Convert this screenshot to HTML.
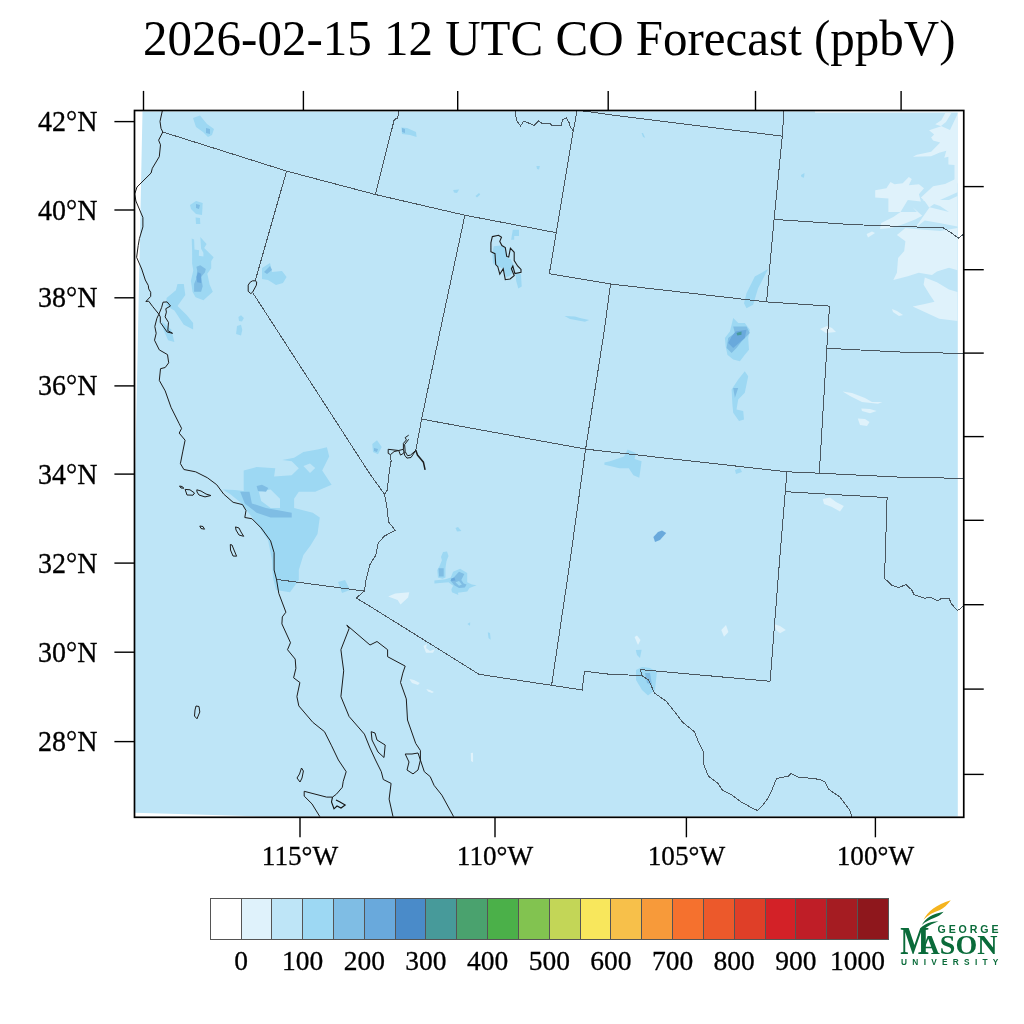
<!DOCTYPE html><html><head><meta charset="utf-8"><style>html,body{margin:0;padding:0;background:#fff;width:1024px;height:1024px;overflow:hidden}svg{display:block;will-change:transform}</style></head><body>
<svg width="1024" height="1024" viewBox="0 0 1024 1024">
<rect width="1024" height="1024" fill="#fff"/>
<text transform="translate(549.3,54.5) scale(1,1.035)" text-anchor="middle" font-family="Liberation Serif" font-size="49" fill="#000">2026-02-15 12 UTC CO Forecast (ppbV)</text>
<polygon points="142.5,111.5 815,111.5 815,112.5 957.8,112.5 957.8,816.5 266,816.5 135,812.7 135,480" fill="#bee5f7"/>
<path d="M945.3,113.0 L951.4,113.0 L946.0,122.0 L941.0,126.0 L950.0,130.0 L958.0,113.0 L958.0,183.2 L954.5,183.2 L954.5,164.9 L948.4,164.4 L948.4,156.8 L944.3,157.8 L946.3,150.7 L939.2,152.7 L931.1,156.2 L912.8,156.8 L916.9,154.7 L931.1,151.7 L940.2,142.5 L933.1,140.5 L931.1,137.5 L934.1,134.4 L929.1,130.3 L941.3,126.3 L935.2,124.3 L941.3,120.2 Z" fill="#dff2fb"/>
<path d="M875.2,190.3 L886.4,188.2 L890.5,182.1 L894.5,184.2 L902.7,183.2 L908.8,177.1 L911.8,179.1 L908.8,185.2 L918.9,184.2 L924.0,188.2 L918.9,194.3 L920.9,201.4 L907.8,200.0 L900.5,212.1 L893.3,217.0 L881.2,223.0 L880.0,229.1 L890.9,227.9 L903.0,224.2 L915.1,219.4 L922.3,215.7 L912.7,207.3 L916.9,212.0 L888.4,212.0 L888.4,198.4 L875.2,197.4 Z" fill="#dff2fb"/>
<path d="M920.9,197.4 L933.1,186.2 L945.0,184.0 L957.5,178.0 L957.5,192.3 L940.0,200.0 L929.1,207.5 L925.0,201.4 Z" fill="#dff2fb"/>
<path d="M922.3,200.0 L949.0,200.0 L957.5,196.0 L957.5,226.6 L939.3,223.0 L924.8,220.6 L915.1,227.9 L929.6,207.3 L949.0,212.1 L940.0,206.0 Z" fill="#dff2fb"/>
<path d="M896.9,235.1 L905.4,227.9 L915.1,229.1 L940.0,231.0 L957.5,227.9 L957.5,270.2 L949.0,267.8 L936.9,271.4 L932.0,275.1 L918.7,272.7 L907.8,276.3 L893.3,279.9 L896.9,272.7 L898.1,258.1 L904.2,250.9 L905.4,241.2 Z" fill="#dff2fb"/>
<path d="M924.8,277.5 L936.9,282.3 L949.0,289.6 L957.5,292.0 L957.5,321.1 L939.3,318.7 L912.7,306.6 L924.8,304.1 L934.5,301.7 L929.6,294.5 L923.6,284.8 Z" fill="#dff2fb"/>
<path d="M866.6,234.0 L872.0,231.5 L875.1,233.0 L868.0,237.5 Z" fill="#dff2fb"/>
<path d="M892.0,309.0 L897.0,311.0 L903.0,315.0 L899.0,316.0 L893.0,312.0 Z" fill="#dff2fb"/>
<path d="M820.0,329.0 L827.0,326.0 L832.0,328.0 L836.0,332.0 L826.0,333.0 Z" fill="#dff2fb"/>
<path d="M193.0,118.0 L200.0,115.5 L207.0,124.0 L214.0,129.0 L212.0,135.0 L208.0,137.0 L203.0,132.0 L196.0,127.0 Z" fill="#9dd8f3"/>
<path d="M206.0,128.0 L210.0,129.0 L210.0,134.0 L206.0,133.0 Z" fill="#7fbde4"/>
<path d="M401.3,127.5 L407.0,128.0 L416.0,132.0 L416.6,137.0 L410.0,135.0 L402.0,134.0 Z" fill="#9dd8f3"/>
<path d="M402.0,128.0 L405.0,129.0 L405.0,133.0 L402.0,132.0 Z" fill="#7fbde4"/>
<path d="M190.0,205.0 L196.0,201.0 L202.7,203.0 L202.0,215.0 L196.0,214.0 L191.0,209.0 Z" fill="#9dd8f3"/>
<path d="M196.0,204.0 L200.0,205.0 L199.0,209.0 L196.0,208.0 Z" fill="#7fbde4"/>
<path d="M195.6,217.5 L200.0,218.0 L200.3,224.0 L196.0,224.0 Z" fill="#9dd8f3"/>
<path d="M191.7,238.6 L194.1,239.4 L194.5,249.5 L199.1,250.3 L198.8,255.8 L203.4,256.6 L203.4,252.7 L201.1,248.8 L200.3,237.0 L206.6,244.1 L204.2,248.0 L213.6,257.3 L211.2,261.2 L211.2,268.3 L207.3,273.8 L209.7,284.7 L212.8,291.7 L203.4,300.3 L195.6,297.2 L192.5,291.7 L190.9,280.8 L193.3,270.6 L192.1,263.6 L192.1,250.3 Z" fill="#9dd8f3"/>
<path d="M196.4,266.7 L200.3,265.2 L205.8,269.1 L205.0,272.2 L201.1,276.9 L202.7,286.2 L201.1,291.7 L194.1,291.7 L194.1,283.9 L196.4,278.4 L197.2,270.6 Z" fill="#7fbde4"/>
<path d="M198.0,272.2 L201.1,273.8 L201.1,283.1 L197.2,282.3 L196.4,276.9 Z" fill="#69a9dc"/>
<path d="M177.5,284.1 L183.8,284.1 L185.3,295.0 L177.5,305.9 L186.9,315.3 L193.1,323.1 L193.1,329.4 L183.8,324.7 L174.4,310.6 L166.6,305.9 L166.6,298.1 L175.9,290.3 Z" fill="#9dd8f3"/>
<path d="M161.9,321.6 L171.2,329.4 L174.4,341.9 L168.1,340.3 L163.4,329.4 Z" fill="#9dd8f3"/>
<path d="M262.0,268.0 L270.0,263.0 L272.0,272.0 L282.0,271.0 L286.6,277.0 L283.0,283.0 L276.0,285.0 L268.0,280.0 L262.0,279.0 Z" fill="#9dd8f3"/>
<path d="M264.0,272.0 L270.0,266.0 L272.0,270.0 L267.0,274.0 Z" fill="#7fbde4"/>
<path d="M238.4,317.0 L241.0,315.3 L243.9,318.0 L242.0,321.6 L239.0,321.0 Z" fill="#9dd8f3"/>
<path d="M237.0,326.0 L241.0,324.7 L242.3,330.0 L241.0,335.6 L236.1,334.0 Z" fill="#9dd8f3"/>
<path d="M222.6,489.4 L235.0,490.0 L243.7,491.0 L243.7,470.6 L256.6,467.1 L275.3,468.3 L274.1,476.5 L291.7,475.3 L298.8,468.3 L291.7,461.2 L282.3,460.1 L294.1,457.7 L303.4,451.9 L317.5,449.5 L326.9,447.2 L329.2,456.6 L322.2,470.6 L331.6,484.7 L315.2,491.7 L298.8,491.7 L294.1,498.7 L294.1,508.1 L312.8,512.8 L319.8,517.5 L317.5,533.9 L310.5,545.6 L303.4,555.0 L298.8,570.0 L298.8,580.0 L290.0,592.3 L276.0,590.0 L273.0,578.0 L272.0,560.0 L268.0,540.0 L258.0,525.0 L248.0,512.0 L240.0,502.0 L230.0,494.0 Z" fill="#9dd8f3"/>
<path d="M258.9,491.7 L270.6,489.4 L280.0,498.7 L280.0,508.1 L270.6,508.1 L261.2,501.1 Z" fill="#bee5f7"/>
<path d="M303.4,466.0 L310.0,463.6 L315.2,468.0 L310.0,473.0 Z" fill="#bee5f7"/>
<path d="M240.2,491.7 L249.5,491.7 L251.9,503.4 L265.9,508.1 L291.7,512.8 L291.7,517.5 L270.6,517.5 L256.6,512.8 L244.8,503.4 Z" fill="#7fbde4"/>
<path d="M256.6,486.0 L262.0,484.7 L268.3,488.0 L266.0,491.7 L258.0,491.0 Z" fill="#7fbde4"/>
<path d="M338.0,582.0 L345.0,580.0 L350.0,590.0 L342.0,593.0 Z" fill="#9dd8f3"/>
<path d="M372.3,444.0 L377.0,440.2 L381.7,447.0 L378.0,454.2 L373.0,452.0 Z" fill="#9dd8f3"/>
<path d="M374.0,448.0 L378.0,449.0 L377.0,452.0 L374.0,451.0 Z" fill="#7fbde4"/>
<path d="M443.0,552.0 L447.0,551.5 L448.5,556.0 L446.7,560.5 L442.0,560.5 L441.0,557.0 Z" fill="#9dd8f3"/>
<path d="M442.0,560.0 L446.7,560.0 L445.5,567.6 L445.5,577.6 L442.6,578.7 L437.9,577.6 L437.3,570.0 L439.6,565.9 Z" fill="#9dd8f3"/>
<path d="M438.5,568.2 L443.7,568.2 L443.7,576.4 L439.1,576.4 Z" fill="#7fbde4"/>
<path d="M453.1,571.7 L460.1,568.8 L467.2,572.9 L467.2,582.3 L471.9,584.6 L476.6,585.2 L469.5,588.1 L467.2,591.6 L457.8,592.8 L458.4,595.1 L451.9,592.2 L451.4,589.3 L453.1,585.8 L448.4,582.3 L434.4,583.4 L434.4,580.5 L445.5,579.3 L450.8,577.6 Z" fill="#9dd8f3"/>
<path d="M452.5,578.7 L459.0,571.7 L464.3,574.1 L461.3,579.9 L463.7,583.4 L466.6,584.6 L464.8,587.5 L459.0,588.1 L454.3,585.2 L450.2,580.5 Z" fill="#7fbde4"/>
<path d="M455.5,582.3 L459.0,581.1 L461.9,584.6 L459.0,585.8 Z" fill="#9dd8f3"/>
<path d="M450.8,578.7 L454.3,577.6 L455.5,580.5 L451.4,581.1 Z" fill="#69a9dc"/>
<path d="M388.2,596.4 L395.2,593.5 L409.3,592.3 L408.1,597.6 L400.5,604.6 L397.6,599.9 Z" fill="#dff2fb"/>
<path d="M515.5,272.8 L521.0,274.2 L521.7,286.5 L518.3,288.6 L516.2,281.0 Z" fill="#9dd8f3"/>
<path d="M512.8,229.8 L519.0,229.8 L519.0,235.9 L514.2,235.9 L514.2,239.7 L511.1,239.7 Z" fill="#9dd8f3"/>
<path d="M768.1,269.1 L758.1,288.2 L753.1,304.8 L746.5,308.2 L744.0,303.2 L746.5,293.2 L754.8,276.6 Z" fill="#9dd8f3"/>
<path d="M733.2,318.1 L738.2,323.1 L744.8,323.1 L749.8,329.7 L748.2,338.0 L749.0,349.7 L744.8,354.7 L739.9,361.3 L733.2,359.6 L727.4,354.7 L725.7,346.4 L724.9,338.0 L729.9,331.4 L731.6,324.8 Z" fill="#9dd8f3"/>
<path d="M733.2,326.4 L746.5,326.4 L749.8,333.1 L741.5,341.4 L736.5,348.0 L731.6,353.0 L726.6,348.0 L728.2,338.0 L734.9,333.1 Z" fill="#7fbde4"/>
<path d="M735.7,331.4 L746.5,329.7 L744.8,338.0 L733.2,348.0 L728.2,343.0 L731.6,336.4 Z" fill="#69a9dc"/>
<path d="M736.5,333.1 L741.5,331.4 L741.5,334.7 L737.4,335.6 Z" fill="#479a9a"/>
<path d="M744.8,371.3 L748.2,376.2 L744.8,392.8 L738.2,399.5 L736.5,409.5 L743.2,411.1 L744.0,419.4 L739.0,421.1 L733.2,412.8 L732.4,404.5 L731.6,389.5 L738.2,379.6 Z" fill="#9dd8f3"/>
<path d="M733.2,387.9 L738.2,387.9 L734.9,397.8 Z" fill="#7fbde4"/>
<path d="M604.4,462.4 L610.0,461.2 L624.1,456.6 L627.6,449.5 L635.8,453.0 L634.6,458.9 L641.6,461.2 L639.3,477.7 L633.4,475.3 L628.8,468.3 L619.4,468.3 L610.0,465.9 L604.4,464.8 Z" fill="#9dd8f3"/>
<path d="M653.4,537.0 L658.0,532.0 L662.0,530.4 L666.2,533.0 L660.0,540.0 L655.0,542.1 Z" fill="#69a9dc"/>
<path d="M636.0,670.0 L642.0,667.0 L650.0,668.0 L656.9,672.0 L655.0,690.0 L648.0,695.4 L642.0,690.0 L636.0,680.0 Z" fill="#9dd8f3"/>
<path d="M645.0,673.0 L650.0,673.0 L652.0,685.0 L647.0,683.0 Z" fill="#7fbde4"/>
<path d="M735.0,470.0 L740.0,468.0 L742.0,472.0 L736.0,474.0 Z" fill="#9dd8f3"/>
<path d="M423.4,646.0 L427.0,643.9 L426.0,648.0 L430.0,651.0 L435.1,649.0 L433.0,652.7 L426.0,652.7 Z" fill="#dff2fb"/>
<path d="M409.3,679.0 L414.0,680.0 L419.8,683.0 L418.0,684.9 L412.0,683.0 Z" fill="#dff2fb"/>
<path d="M426.3,689.0 L430.0,690.0 L433.9,692.0 L432.0,693.0 L428.0,691.5 Z" fill="#dff2fb"/>
<path d="M467.3,624.0 L470.2,622.2 L470.0,625.7 Z" fill="#9dd8f3"/>
<path d="M487.8,632.2 L490.0,633.0 L490.7,639.8 L488.5,638.0 Z" fill="#9dd8f3"/>
<path d="M453.2,190.0 L459.1,189.4 L457.0,192.9 L454.0,192.5 Z" fill="#9dd8f3"/>
<path d="M475.5,196.0 L479.0,192.9 L480.2,194.5 L477.0,197.6 Z" fill="#9dd8f3"/>
<path d="M536.4,166.0 L539.9,165.9 L539.0,169.5 L537.0,169.0 Z" fill="#9dd8f3"/>
<path d="M564.5,316.0 L575.0,316.5 L580.0,318.0 L589.1,320.0 L585.0,321.8 L570.0,319.0 Z" fill="#9dd8f3"/>
<path d="M641.6,133.1 L643.0,133.0 L645.2,137.8 L643.0,137.0 Z" fill="#9dd8f3"/>
<path d="M801.0,175.0 L804.5,173.0 L804.0,177.7 L801.5,177.0 Z" fill="#9dd8f3"/>
<path d="M455.5,528.0 L458.0,526.9 L461.4,531.0 L457.0,531.6 Z" fill="#9dd8f3"/>
<path d="M842.6,391.4 L852.0,393.0 L865.0,398.0 L872.0,402.0 L882.4,402.0 L878.0,403.8 L862.0,402.0 L850.0,396.0 Z" fill="#dff2fb"/>
<path d="M861.3,408.5 L870.0,409.0 L876.6,411.0 L870.0,413.2 L862.0,411.0 Z" fill="#dff2fb"/>
<path d="M857.8,418.6 L865.0,419.0 L869.5,422.0 L867.0,426.1 L860.0,425.0 Z" fill="#dff2fb"/>
<path d="M822.7,499.0 L830.0,497.6 L836.0,502.0 L843.8,506.0 L840.0,511.6 L832.0,507.0 L824.0,504.0 Z" fill="#dff2fb"/>
<path d="M634.6,637.0 L637.0,635.6 L640.5,640.0 L638.0,645.0 Z" fill="#dff2fb"/>
<path d="M635.8,650.0 L641.6,649.7 L640.0,657.9 L637.0,655.0 Z" fill="#9dd8f3"/>
<path d="M721.3,630.0 L726.0,625.0 L728.4,632.0 L724.0,636.8 Z" fill="#dff2fb"/>
<path d="M774.0,624.0 L780.0,626.0 L785.8,630.0 L780.0,633.3 L776.0,630.0 Z" fill="#dff2fb"/>
<path d="M470.8,753.0 L473.0,752.8 L473.1,762.2 L471.0,761.0 Z" fill="#dff2fb"/>
<path d="M493.7,246.2 L500.5,245.5 L505.3,247.6 L507.3,257.8 L510.8,259.2 L514.2,266.0 L512.8,272.8 L509.4,276.3 L506.0,276.9 L503.2,268.7 L497.1,266.0 L493.0,263.3 L492.3,253.7 Z" fill="#9dd8f3"/>
<path d="M492.3,236.6 L498.5,235.3 L501.5,237.3 L499.8,241.4 L501.9,245.5 L505.3,247.6 L506.7,256.4 L508.7,257.1 L510.4,248.2 L514.2,252.3 L514.2,260.5 L517.6,266.0 L521.0,269.4 L521.0,272.2 L514.9,273.5 L512.8,266.0 L511.4,268.7 L514.2,275.6 L510.1,279.0 L505.3,279.7 L503.2,268.7 L499.8,274.2 L497.8,266.7 L495.7,264.6 L495.0,253.7 L490.9,251.7 L490.9,242.8 Z" fill="none" stroke="#1c1c1c" stroke-width="1.1"/>
<path d="M162.8,132.0 L286.6,171.1 L375.3,194.5 L464.9,215.2 L556.3,232.7" fill="none" stroke="#4a5760" stroke-width="1" shape-rendering="crispEdges"/>
<path d="M286.6,171.1 L255.2,280.8" fill="none" stroke="#4a5760" stroke-width="1" shape-rendering="crispEdges"/>
<path d="M252.6,292.5 L370.0,474.1 L385.2,495.2" fill="none" stroke="#4a5760" stroke-width="1" shape-rendering="crispEdges"/>
<path d="M375.3,194.5 L394.3,119.4 L397.1,118.5 L398.5,114.3 L398.5,110.6" fill="none" stroke="#4a5760" stroke-width="1" shape-rendering="crispEdges"/>
<path d="M464.9,215.2 L440.3,330.0 L421.6,419.1 L415.7,450.7" fill="none" stroke="#4a5760" stroke-width="1" shape-rendering="crispEdges"/>
<path d="M577.1,110.9 L573.2,130.9 L556.3,232.7 L549.3,273.7 L610.5,284.0 L766.6,301.9 L829.5,306.1 L826.8,348.3 L905.9,352.3 L964.0,353.4" fill="none" stroke="#4a5760" stroke-width="1" shape-rendering="crispEdges"/>
<path d="M516.1,110.4 L515.6,114.8 L516.6,120.6 L520.5,126.0 L523.4,121.6 L526.4,122.1 L534.2,125.5 L538.6,121.1 L543.0,124.0 L549.8,123.1 L551.8,125.5 L561.0,126.0 L562.5,120.1 L566.4,117.7 L569.3,123.1 L570.3,127.0 L573.2,130.9" fill="none" stroke="#4a5760" stroke-width="1" shape-rendering="crispEdges"/>
<path d="M582.0,110.9 L593.8,112.3 L610.0,114.8 L782.3,136.2" fill="none" stroke="#4a5760" stroke-width="1" shape-rendering="crispEdges"/>
<path d="M783.9,110.9 L782.3,136.2 L774.1,219.4 L766.6,301.9" fill="none" stroke="#4a5760" stroke-width="1" shape-rendering="crispEdges"/>
<path d="M774.1,219.4 L850.0,224.5 L943.4,228.0 L950.0,232.0 L958.6,238.1 L964.0,233.9" fill="none" stroke="#4a5760" stroke-width="1" shape-rendering="crispEdges"/>
<path d="M610.5,284.0 L604.4,330.0 L585.6,449.1 L568.8,570.0 L551.6,685.3" fill="none" stroke="#4a5760" stroke-width="1" shape-rendering="crispEdges"/>
<path d="M421.6,419.1 L585.6,449.1 L610.0,451.9 L787.0,471.8 L819.3,473.2 L901.2,477.2 L964.0,478.4" fill="none" stroke="#4a5760" stroke-width="1" shape-rendering="crispEdges"/>
<path d="M826.8,348.3 L819.3,473.2" fill="none" stroke="#4a5760" stroke-width="1" shape-rendering="crispEdges"/>
<path d="M787.0,471.8 L785.3,491.7 L778.8,570.0 L770.1,681.3" fill="none" stroke="#4a5760" stroke-width="1" shape-rendering="crispEdges"/>
<path d="M785.3,491.7 L887.1,497.6 L884.8,570.0 L884.3,578.2 L891.8,585.2 L898.8,587.6 L905.9,584.5 L911.7,589.9 L914.1,594.6 L924.6,598.1 L931.7,597.7 L937.5,600.9 L941.0,598.6 L949.2,598.6 L951.6,604.0 L955.0,608.0 L957.4,610.3 L960.0,609.0 L964.0,605.2" fill="none" stroke="#4a5760" stroke-width="1" shape-rendering="crispEdges"/>
<path d="M640.5,669.6 L770.1,681.3" fill="none" stroke="#4a5760" stroke-width="1" shape-rendering="crispEdges"/>
<path d="M276.5,579.4 L364.4,591.1 L356.2,598.1 L370.0,606.3 L479.0,674.3 L551.6,685.3 L582.1,690.0 L584.5,671.3 L610.0,674.3 L641.6,675.5" fill="none" stroke="#4a5760" stroke-width="1" shape-rendering="crispEdges"/>
<path d="M390.5,454.6 L391.1,461.0 L390.0,466.9 L388.2,480.0 L387.6,489.4 L384.5,495.2 L386.4,503.4 L388.7,522.2 L395.3,530.4 L384.1,536.2 L378.2,543.3 L375.9,555.0 L370.0,564.4 L366.0,580.0 L364.4,591.1" fill="none" stroke="#4a5760" stroke-width="1" shape-rendering="crispEdges"/>
<path d="M640.5,669.6 L641.6,675.5 L648.7,680.2 L654.5,693.0 L666.2,701.3 L675.6,713.0 L682.7,722.3 L694.4,731.7 L699.1,743.4 L703.7,752.8 L703.7,764.5 L708.4,776.2 L717.8,783.3 L722.5,790.3 L731.9,795.0 L741.3,802.0 L752.0,808.0 L757.5,810.5 L762.0,806.0 L767.0,799.7 L772.0,790.0 L776.4,778.6 L788.1,776.2 L790.9,773.4 L798.0,777.0 L802.2,777.4 L819.2,779.3 L825.0,782.1 L828.5,789.1 L840.2,797.3 L849.6,810.0 L852.0,817.0" fill="none" stroke="#4a5760" stroke-width="1" shape-rendering="crispEdges"/>
<path d="M162.3,110.9 L160.0,121.4 L161.0,128.4 L162.8,132.0 L158.6,140.2 L160.5,144.8 L159.3,156.6 L152.3,168.3 L151.1,173.0 L137.0,187.0 L134.7,194.0 L135.9,201.0 L142.9,217.5 L142.9,226.9 L139.4,238.6 L138.2,245.6 L136.6,257.3 L141.7,269.0 L145.3,280.0 L148.3,285.5 L148.7,288.9 L150.7,292.3 L150.7,296.4 L145.9,301.5 L148.7,301.2 L152.8,306.7 L158.9,314.2 L156.9,318.3 L154.8,326.5 L156.2,333.3 L154.5,340.2 L159.3,349.9 L167.5,354.6 L168.7,362.8 L165.2,367.5 L160.5,368.7 L159.3,380.4 L165.2,390.9 L171.0,407.3 L179.2,423.7 L181.6,428.4 L179.2,433.1 L185.1,440.2 L182.7,451.9 L180.4,463.6 L183.9,469.5 L195.6,471.8 L207.3,477.7 L216.7,484.7 L223.7,494.1 L233.1,502.3 L242.5,504.6 L246.0,510.5 L244.8,517.5 L251.9,518.7 L261.2,528.0 L270.6,540.9 L274.1,552.7 L274.1,570.0 L276.5,579.4 L278.8,593.4 L285.9,612.2 L282.3,616.9 L281.9,623.9 L290.5,642.7 L287.5,649.7 L295.2,659.1 L295.9,668.4 L293.6,677.8 L299.9,682.5 L296.9,696.6 L298.8,705.9 L312.8,722.3 L324.5,731.7 L331.6,745.8 L338.4,760.0 L346.2,771.7 L343.2,781.5 L342.3,787.3 L336.4,794.2 L332.5,797.1 L326.6,797.1 L304.2,791.3 L304.2,796.1 L312.0,803.9 L319.8,816.6" fill="none" stroke="#1c1c1c" stroke-width="1.0" stroke-linejoin="round"/>
<path d="M158.9,314.2 L161.7,307.3 L163.0,302.2 L167.1,301.9 L170.5,306.0 L165.8,308.7 L166.4,312.1 L165.1,316.9 L168.5,322.4 L167.8,330.6 L172.6,333.3 L167.1,332.0 L160.3,322.4 L160.3,316.9 L158.9,314.2" fill="none" stroke="#1c1c1c" stroke-width="1.0" stroke-linejoin="round"/>
<path d="M255.2,280.8 L256.7,281.9 L256.4,285.1 L252.6,292.2 L250.8,293.6 L248.2,291.3 L248.2,285.1 L250.2,282.2 L252.6,280.8 L255.2,280.8" fill="none" stroke="#1c1c1c" stroke-width="1.0" stroke-linejoin="round"/>
<path d="M346.8,625.1 L349.1,628.6 L340.9,649.7 L342.1,659.1 L343.7,670.8 L340.9,696.6 L349.1,716.5 L364.4,734.1 L370.0,748.0 L375.5,760.0 L381.3,771.7 L383.3,779.5 L391.1,783.4 L389.1,799.1 L393.0,816.6" fill="none" stroke="#1c1c1c" stroke-width="1.0" stroke-linejoin="round"/>
<path d="M346.8,625.1 L370.0,645.0 L377.0,641.5 L387.6,649.7 L387.6,656.7 L405.2,666.1 L402.8,673.1 L400.5,682.5 L406.3,698.9 L407.5,720.0 L415.7,743.4 L420.4,750.5 L420.4,760.0 L424.3,771.7 L430.2,776.6 L434.1,785.4 L441.9,795.2 L453.6,816.6" fill="none" stroke="#1c1c1c" stroke-width="1.0" stroke-linejoin="round"/>
<path d="M415.7,450.5 L411.0,457.5 L406.9,458.1 L404.6,455.1 L403.4,449.3 L403.4,443.4 L406.4,439.9 L405.2,437.6 L408.7,435.2" fill="none" stroke="#1c1c1c" stroke-width="1.0" stroke-linejoin="round"/>
<path d="M408.7,439.3 L404.6,444.6 L405.2,451.6 L407.5,455.7 L410.5,455.1 L415.7,450.5" fill="none" stroke="#1c1c1c" stroke-width="1.0" stroke-linejoin="round"/>
<path d="M403.4,449.3 L398.7,450.5 L400.5,455.1 L403.4,453.4 L404.6,451.6" fill="none" stroke="#1c1c1c" stroke-width="1.0" stroke-linejoin="round"/>
<path d="M398.7,450.5 L388.2,449.3 L388.2,453.4 L390.5,454.6 L394.1,451.6 L398.7,450.5" fill="none" stroke="#1c1c1c" stroke-width="1.0" stroke-linejoin="round"/>
<path d="M415.7,449.9 L417.5,455.1 L421.0,459.3 L423.4,462.2 L425.1,469.8" fill="none" stroke="#1c1c1c" stroke-width="1.5"/>
<path d="M179.5,486.0 L182.0,486.5 L183.9,488.2 L181.0,488.0 Z" fill="none" stroke="#1c1c1c" stroke-width="1.0" stroke-linejoin="round"/>
<path d="M185.1,489.4 L190.0,489.8 L194.5,493.0 L193.0,495.2 L187.0,495.0 L186.0,492.0 Z" fill="none" stroke="#1c1c1c" stroke-width="1.0" stroke-linejoin="round"/>
<path d="M196.8,489.8 L201.0,491.0 L206.0,494.0 L210.9,495.5 L205.0,496.9 L199.0,495.0 L197.0,492.0 Z" fill="none" stroke="#1c1c1c" stroke-width="1.0" stroke-linejoin="round"/>
<path d="M199.8,526.0 L203.0,526.5 L204.5,529.2 L201.0,528.5 Z" fill="none" stroke="#1c1c1c" stroke-width="1.0" stroke-linejoin="round"/>
<path d="M235.5,526.9 L239.0,528.0 L241.0,532.0 L243.7,536.3 L239.0,535.0 L236.0,530.0 Z" fill="none" stroke="#1c1c1c" stroke-width="1.0" stroke-linejoin="round"/>
<path d="M230.3,544.5 L232.0,545.0 L234.0,550.0 L236.6,556.2 L233.0,556.0 L230.5,550.0 Z" fill="none" stroke="#1c1c1c" stroke-width="1.0" stroke-linejoin="round"/>
<path d="M196.0,706.0 L199.0,706.5 L199.8,712.0 L197.0,718.8 L194.5,716.0 L195.0,710.0 Z" fill="none" stroke="#1c1c1c" stroke-width="1.0" stroke-linejoin="round"/>
<path d="M301.5,768.0 L303.4,771.0 L302.0,778.0 L300.0,782.0 L297.0,778.0 L299.5,774.0 Z" fill="none" stroke="#1c1c1c" stroke-width="1.0" stroke-linejoin="round"/>
<path d="M371.2,731.7 L375.0,733.0 L377.0,740.0 L385.2,745.0 L384.0,757.5 L378.0,752.0 L372.0,740.0 Z" fill="none" stroke="#1c1c1c" stroke-width="1.0" stroke-linejoin="round"/>
<path d="M405.2,754.0 L412.0,754.0 L418.0,753.0 L420.4,760.0 L418.0,770.0 L413.0,773.9 L407.0,770.0 L409.0,762.0 Z" fill="none" stroke="#1c1c1c" stroke-width="1.0" stroke-linejoin="round"/>
<path d="M332.5,797.1 L331.5,802.0 L334.0,808.8 L337.0,806.0 L341.0,808.0 L345.2,805.0 L340.0,802.0 L336.0,800.0" fill="none" stroke="#111" stroke-width="1.1"/>
<rect x="134.5" y="110.5" width="829.25" height="706.8" fill="none" stroke="#000" stroke-width="1.7"/>
<line x1="114.4" y1="121.6" x2="134.5" y2="121.6" stroke="#000" stroke-width="1.4"/>
<text transform="translate(97.5,131.1) scale(1,1.06)" text-anchor="end" font-family="Liberation Serif" font-size="28" fill="#000" stroke="#000" stroke-width="0.3">42°N</text>
<line x1="114.4" y1="210" x2="134.5" y2="210" stroke="#000" stroke-width="1.4"/>
<text transform="translate(97.5,219.5) scale(1,1.06)" text-anchor="end" font-family="Liberation Serif" font-size="28" fill="#000" stroke="#000" stroke-width="0.3">40°N</text>
<line x1="114.4" y1="297.8" x2="134.5" y2="297.8" stroke="#000" stroke-width="1.4"/>
<text transform="translate(97.5,307.3) scale(1,1.06)" text-anchor="end" font-family="Liberation Serif" font-size="28" fill="#000" stroke="#000" stroke-width="0.3">38°N</text>
<line x1="114.4" y1="385.9" x2="134.5" y2="385.9" stroke="#000" stroke-width="1.4"/>
<text transform="translate(97.5,395.4) scale(1,1.06)" text-anchor="end" font-family="Liberation Serif" font-size="28" fill="#000" stroke="#000" stroke-width="0.3">36°N</text>
<line x1="114.4" y1="474.1" x2="134.5" y2="474.1" stroke="#000" stroke-width="1.4"/>
<text transform="translate(97.5,483.6) scale(1,1.06)" text-anchor="end" font-family="Liberation Serif" font-size="28" fill="#000" stroke="#000" stroke-width="0.3">34°N</text>
<line x1="114.4" y1="563.1" x2="134.5" y2="563.1" stroke="#000" stroke-width="1.4"/>
<text transform="translate(97.5,572.6) scale(1,1.06)" text-anchor="end" font-family="Liberation Serif" font-size="28" fill="#000" stroke="#000" stroke-width="0.3">32°N</text>
<line x1="114.4" y1="652.2" x2="134.5" y2="652.2" stroke="#000" stroke-width="1.4"/>
<text transform="translate(97.5,661.7) scale(1,1.06)" text-anchor="end" font-family="Liberation Serif" font-size="28" fill="#000" stroke="#000" stroke-width="0.3">30°N</text>
<line x1="114.4" y1="741.6" x2="134.5" y2="741.6" stroke="#000" stroke-width="1.4"/>
<text transform="translate(97.5,751.1) scale(1,1.06)" text-anchor="end" font-family="Liberation Serif" font-size="28" fill="#000" stroke="#000" stroke-width="0.3">28°N</text>
<line x1="143.5" y1="90.9" x2="143.5" y2="110.5" stroke="#000" stroke-width="1.4"/>
<line x1="303.4" y1="90.9" x2="303.4" y2="110.5" stroke="#000" stroke-width="1.4"/>
<line x1="457.7" y1="90.9" x2="457.7" y2="110.5" stroke="#000" stroke-width="1.4"/>
<line x1="608.2" y1="90.9" x2="608.2" y2="110.5" stroke="#000" stroke-width="1.4"/>
<line x1="755.5" y1="90.9" x2="755.5" y2="110.5" stroke="#000" stroke-width="1.4"/>
<line x1="901.1" y1="90.9" x2="901.1" y2="110.5" stroke="#000" stroke-width="1.4"/>
<line x1="300" y1="817.3" x2="300" y2="837.3" stroke="#000" stroke-width="1.4"/>
<text transform="translate(300,865.3) scale(1,1.04)" text-anchor="middle" font-family="Liberation Serif" font-size="27.2" fill="#000" stroke="#000" stroke-width="0.3">115°W</text>
<line x1="495" y1="817.3" x2="495" y2="837.3" stroke="#000" stroke-width="1.4"/>
<text transform="translate(495,865.3) scale(1,1.04)" text-anchor="middle" font-family="Liberation Serif" font-size="27.2" fill="#000" stroke="#000" stroke-width="0.3">110°W</text>
<line x1="686.4" y1="817.3" x2="686.4" y2="837.3" stroke="#000" stroke-width="1.4"/>
<text transform="translate(686.4,865.3) scale(1,1.04)" text-anchor="middle" font-family="Liberation Serif" font-size="27.2" fill="#000" stroke="#000" stroke-width="0.3">105°W</text>
<line x1="875.4" y1="817.3" x2="875.4" y2="837.3" stroke="#000" stroke-width="1.4"/>
<text transform="translate(875.4,865.3) scale(1,1.04)" text-anchor="middle" font-family="Liberation Serif" font-size="27.2" fill="#000" stroke="#000" stroke-width="0.3">100°W</text>
<line x1="963.75" y1="186.6" x2="983.75" y2="186.6" stroke="#000" stroke-width="1.4"/>
<line x1="963.75" y1="269.7" x2="983.75" y2="269.7" stroke="#000" stroke-width="1.4"/>
<line x1="963.75" y1="353.1" x2="983.75" y2="353.1" stroke="#000" stroke-width="1.4"/>
<line x1="963.75" y1="436.6" x2="983.75" y2="436.6" stroke="#000" stroke-width="1.4"/>
<line x1="963.75" y1="520.3" x2="983.75" y2="520.3" stroke="#000" stroke-width="1.4"/>
<line x1="963.75" y1="604.7" x2="983.75" y2="604.7" stroke="#000" stroke-width="1.4"/>
<line x1="963.75" y1="689.1" x2="983.75" y2="689.1" stroke="#000" stroke-width="1.4"/>
<line x1="963.75" y1="774.4" x2="983.75" y2="774.4" stroke="#000" stroke-width="1.4"/>
<rect x="210.25" y="898.5" width="30.82" height="40.7" fill="#ffffff"/>
<rect x="241.07" y="898.5" width="30.82" height="40.7" fill="#dff2fb"/>
<rect x="271.89" y="898.5" width="30.82" height="40.7" fill="#bee5f7"/>
<rect x="302.71" y="898.5" width="30.82" height="40.7" fill="#9dd8f3"/>
<rect x="333.53" y="898.5" width="30.82" height="40.7" fill="#7fbde4"/>
<rect x="364.35" y="898.5" width="30.82" height="40.7" fill="#69a9dc"/>
<rect x="395.17" y="898.5" width="30.82" height="40.7" fill="#4a8bc9"/>
<rect x="425.99" y="898.5" width="30.82" height="40.7" fill="#479a9a"/>
<rect x="456.81" y="898.5" width="30.82" height="40.7" fill="#4aa26e"/>
<rect x="487.63" y="898.5" width="30.82" height="40.7" fill="#4bb049"/>
<rect x="518.45" y="898.5" width="30.82" height="40.7" fill="#82c350"/>
<rect x="549.27" y="898.5" width="30.82" height="40.7" fill="#c3d657"/>
<rect x="580.10" y="898.5" width="30.82" height="40.7" fill="#f8e75c"/>
<rect x="610.92" y="898.5" width="30.82" height="40.7" fill="#f7c04a"/>
<rect x="641.74" y="898.5" width="30.82" height="40.7" fill="#f79a3a"/>
<rect x="672.56" y="898.5" width="30.82" height="40.7" fill="#f5712e"/>
<rect x="703.38" y="898.5" width="30.82" height="40.7" fill="#ec592b"/>
<rect x="734.20" y="898.5" width="30.82" height="40.7" fill="#df3f28"/>
<rect x="765.02" y="898.5" width="30.82" height="40.7" fill="#d32127"/>
<rect x="795.84" y="898.5" width="30.82" height="40.7" fill="#bf1e27"/>
<rect x="826.66" y="898.5" width="30.82" height="40.7" fill="#a51c22"/>
<rect x="857.48" y="898.5" width="30.82" height="40.7" fill="#8e171c"/>
<g fill="none" stroke="#555" stroke-width="1" shape-rendering="crispEdges">
<rect x="210.25" y="898.5" width="678.05" height="40.7"/>
<line x1="241.07" y1="898.5" x2="241.07" y2="939.2"/>
<line x1="271.89" y1="898.5" x2="271.89" y2="939.2"/>
<line x1="302.71" y1="898.5" x2="302.71" y2="939.2"/>
<line x1="333.53" y1="898.5" x2="333.53" y2="939.2"/>
<line x1="364.35" y1="898.5" x2="364.35" y2="939.2"/>
<line x1="395.17" y1="898.5" x2="395.17" y2="939.2"/>
<line x1="425.99" y1="898.5" x2="425.99" y2="939.2"/>
<line x1="456.81" y1="898.5" x2="456.81" y2="939.2"/>
<line x1="487.63" y1="898.5" x2="487.63" y2="939.2"/>
<line x1="518.45" y1="898.5" x2="518.45" y2="939.2"/>
<line x1="549.27" y1="898.5" x2="549.27" y2="939.2"/>
<line x1="580.10" y1="898.5" x2="580.10" y2="939.2"/>
<line x1="610.92" y1="898.5" x2="610.92" y2="939.2"/>
<line x1="641.74" y1="898.5" x2="641.74" y2="939.2"/>
<line x1="672.56" y1="898.5" x2="672.56" y2="939.2"/>
<line x1="703.38" y1="898.5" x2="703.38" y2="939.2"/>
<line x1="734.20" y1="898.5" x2="734.20" y2="939.2"/>
<line x1="765.02" y1="898.5" x2="765.02" y2="939.2"/>
<line x1="795.84" y1="898.5" x2="795.84" y2="939.2"/>
<line x1="826.66" y1="898.5" x2="826.66" y2="939.2"/>
<line x1="857.48" y1="898.5" x2="857.48" y2="939.2"/>
</g>
<text transform="translate(241.07,970.2) scale(1,1.0)" text-anchor="middle" font-family="Liberation Serif" font-size="27.5" fill="#000" stroke="#000" stroke-width="0.3">0</text>
<text transform="translate(302.71,970.2) scale(1,1.0)" text-anchor="middle" font-family="Liberation Serif" font-size="27.5" fill="#000" stroke="#000" stroke-width="0.3">100</text>
<text transform="translate(364.35,970.2) scale(1,1.0)" text-anchor="middle" font-family="Liberation Serif" font-size="27.5" fill="#000" stroke="#000" stroke-width="0.3">200</text>
<text transform="translate(425.99,970.2) scale(1,1.0)" text-anchor="middle" font-family="Liberation Serif" font-size="27.5" fill="#000" stroke="#000" stroke-width="0.3">300</text>
<text transform="translate(487.63,970.2) scale(1,1.0)" text-anchor="middle" font-family="Liberation Serif" font-size="27.5" fill="#000" stroke="#000" stroke-width="0.3">400</text>
<text transform="translate(549.27,970.2) scale(1,1.0)" text-anchor="middle" font-family="Liberation Serif" font-size="27.5" fill="#000" stroke="#000" stroke-width="0.3">500</text>
<text transform="translate(610.92,970.2) scale(1,1.0)" text-anchor="middle" font-family="Liberation Serif" font-size="27.5" fill="#000" stroke="#000" stroke-width="0.3">600</text>
<text transform="translate(672.56,970.2) scale(1,1.0)" text-anchor="middle" font-family="Liberation Serif" font-size="27.5" fill="#000" stroke="#000" stroke-width="0.3">700</text>
<text transform="translate(734.20,970.2) scale(1,1.0)" text-anchor="middle" font-family="Liberation Serif" font-size="27.5" fill="#000" stroke="#000" stroke-width="0.3">800</text>
<text transform="translate(795.84,970.2) scale(1,1.0)" text-anchor="middle" font-family="Liberation Serif" font-size="27.5" fill="#000" stroke="#000" stroke-width="0.3">900</text>
<text transform="translate(857.48,970.2) scale(1,1.0)" text-anchor="middle" font-family="Liberation Serif" font-size="27.5" fill="#000" stroke="#000" stroke-width="0.3">1000</text>
<g id="gmu">
<path d="M923.5,919.8 C928,911 936,905 950.8,900.2 C947,905 944,908 940,910 C934,912 928,915 923.5,919.8 Z" fill="#f5b41e"/>
<path d="M921.8,925 C926,918 932,914 943.6,911.8 C941,915 938,916.5 934,918 C930,919.5 925,922 921.8,925 Z" fill="#0a6b3a"/>
<path d="M920.5,928 C925,923.5 931,921.5 938.5,921.2 C934,923 929,925 924,929 Z" fill="#0a6b3a"/>
<text x="900.3" y="953.9" font-family="Liberation Serif" font-weight="bold" font-size="41" textLength="29" lengthAdjust="spacingAndGlyphs" fill="#0a6b3a">M</text>
<text x="919.6" y="953.9" font-family="Liberation Serif" font-weight="bold" font-size="28" textLength="77.8" lengthAdjust="spacingAndGlyphs" fill="#0a6b3a">ASON</text>
<text x="937.5" y="932.8" font-family="Liberation Sans" font-weight="bold" font-size="10.6" textLength="61" lengthAdjust="spacing" fill="#0a6b3a">GEORGE</text>
<text x="901.1" y="965" font-family="Liberation Sans" font-weight="bold" font-size="8.3" textLength="97.3" lengthAdjust="spacing" fill="#0a6b3a">UNIVERSITY</text>
</g>

</svg></body></html>
